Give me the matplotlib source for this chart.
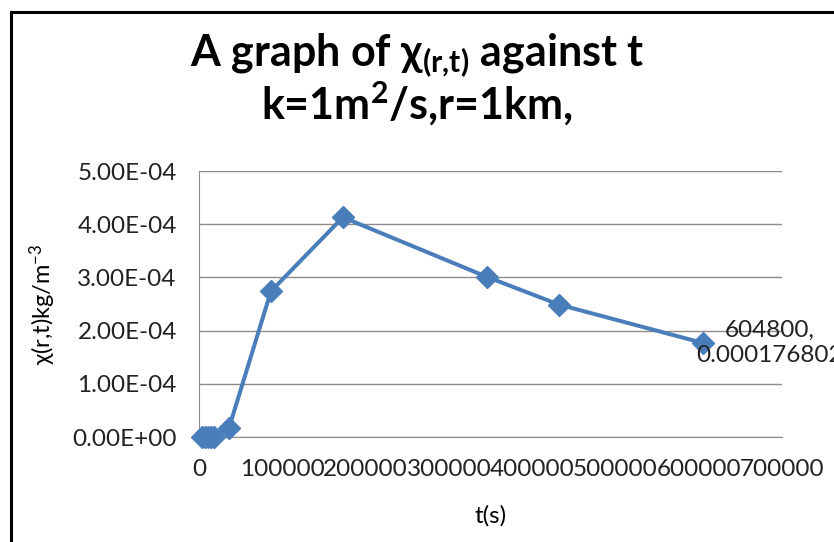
import matplotlib
matplotlib.use('Agg')
import matplotlib.pyplot as plt
from matplotlib.ticker import FuncFormatter, MultipleLocator
from matplotlib.lines import Line2D

# data: time in seconds, concentration in kg/m^3
t_sec = [3600, 7200, 10800, 14400, 18000, 36000, 86400, 172800, 345600, 432000, 604800]
chi = [0.0, 0.0, 0.0, 0.0, 0.0, 1.7e-5, 2.74e-4, 4.13e-4, 3.01e-4, 2.49e-4, 1.76802e-4]

x_ticks = [0, 100000, 200000, 300000, 400000, 500000, 600000, 700000]
y_max = 5e-4

plt.rcParams['font.family'] = ['Lato', 'DejaVu Sans']
plt.rcParams['mathtext.fontset'] = 'custom'
plt.rcParams['mathtext.rm'] = 'Lato'
plt.rcParams['mathtext.default'] = 'regular'

W, H = 834, 542
fig = plt.figure(figsize=(W / 100, H / 100), dpi=100)
fig.patch.set_facecolor('white')

# outer frame (top and left edges only are visible)
fig.add_artist(Line2D([11 / W, 11 / W], [0, 1 - 12 / H], color='black', lw=2.2,
                      transform=fig.transFigure))
fig.add_artist(Line2D([11 / W, 1], [1 - 12 / H, 1 - 12 / H], color='black', lw=2.2,
                      transform=fig.transFigure))

left, right, top, bottom = 199, 782, 171, 437
ax = fig.add_axes([left / W, 1 - bottom / H, (right - left) / W, (bottom - top) / H])

blue = '#4A7EBB'
ax.plot(t_sec, chi, color=blue, lw=2.9, marker='D', markersize=11,
        markerfacecolor=blue, markeredgecolor=blue, clip_on=False, zorder=3)

ax.set_xlim(0, 700000)
ax.set_ylim(0, y_max)
ax.set_xticks(x_ticks)
ax.xaxis.set_major_formatter(FuncFormatter(lambda v, p: f'{int(v)}'))
ax.yaxis.set_major_locator(MultipleLocator(1e-4))
ax.yaxis.set_major_formatter(FuncFormatter(lambda v, p: f'{v:.2E}'))

ax.grid(axis='y', color='#8C8C8C', lw=1.0)
ax.set_axisbelow(True)
for s in ['top', 'right']:
    ax.spines[s].set_visible(False)
ax.spines['left'].set_color('#8C8C8C')
ax.spines['bottom'].set_color('#8C8C8C')
ax.tick_params(length=0, labelsize=17.5, colors='#222222')
ax.tick_params(axis='y', pad=16)
ax.tick_params(axis='x', pad=16)

ax.set_xlabel('t(s)', fontsize=17.5, labelpad=18)
ax.set_ylabel(r'χ(r,t)kg/m$^{-3}$', fontsize=17, labelpad=10)

fig.text(0.5, 1 - 56 / H, r'A graph of χ$_{(r{,}t)}$ against t', ha='center', va='center',
         fontsize=31, fontweight='bold')
fig.text(0.5, 1 - 104 / H, r'k=1m$^{2}$/s,r=1km,', ha='center', va='center',
         fontsize=31, fontweight='bold')

# data label on the last point (cut at the right edge, as in the original)
ax.annotate(f'{t_sec[-1]},\n{chi[-1]:.9f}'.rstrip('0'), xy=(t_sec[-1], chi[-1]),
            xytext=(48, 0), textcoords='offset points', ha='center', va='center',
            fontsize=17.5, color='#222222', linespacing=1.3, annotation_clip=False,
            zorder=4)

fig.savefig('out.png', dpi=100)
